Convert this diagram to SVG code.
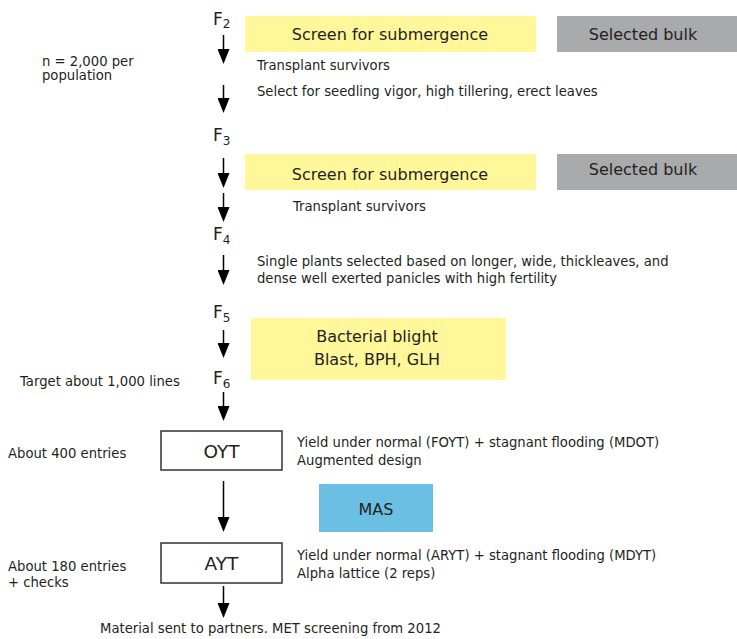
<svg xmlns="http://www.w3.org/2000/svg" width="737" height="639" viewBox="0 0 737 639">
<style>
text{font-family:"DejaVu Sans","Liberation Sans",sans-serif;fill:#231f20}
.s{font-size:13.2px}
.b{font-size:16px;text-anchor:middle}
.g{font-size:17px}
.sub{font-size:12px}
.t{font-size:18.5px;text-anchor:middle}
.y{fill:#fff799}
.gr{fill:#a9aaac}
.bl{fill:#6bbfe3}
.box{fill:#fff;stroke:#333;stroke-width:1.5}
.ar{stroke:#000;stroke-width:1.5;fill:none;marker-end:url(#ah)}
</style>
<defs>
<marker id="ah" markerUnits="userSpaceOnUse" viewBox="0 0 15 12" refX="5" refY="6" markerWidth="15" markerHeight="12" orient="auto">
<path d="M0,0 L15,6 L0,12 Z" fill="#000"/>
</marker>
</defs>

<g id="gen-labels">
<text class="g" x="213" y="25">F<tspan class="sub" dy="3">2</tspan></text>
<text class="g" x="213" y="141">F<tspan class="sub" dy="4">3</tspan></text>
<text class="g" x="213" y="240">F<tspan class="sub" dy="4">4</tspan></text>
<text class="g" x="213" y="318">F<tspan class="sub" dy="4">5</tspan></text>
<text class="g" x="213" y="384">F<tspan class="sub" dy="4">6</tspan></text>
</g>

<g id="screen1">
<rect class="y" x="245" y="16" width="291" height="36"/>
<text class="b" x="390" y="40">Screen for submergence</text>
</g>
<g id="bulk1">
<rect class="gr" x="557" y="16" width="180" height="36"/>
<text class="b" x="643" y="40">Selected bulk</text>
</g>
<g id="screen2">
<rect class="y" x="245" y="154" width="291" height="36"/>
<text class="b" x="390" y="180">Screen for submergence</text>
</g>
<g id="bulk2">
<rect class="gr" x="557" y="154" width="180" height="36"/>
<text class="b" x="643" y="175">Selected bulk</text>
</g>
<g id="disease">
<rect class="y" x="251" y="318" width="255" height="62"/>
<text class="b" x="377" y="342">Bacterial blight</text>
<text class="b" x="377" y="365">Blast, BPH, GLH</text>
</g>
<g id="oyt">
<rect class="box" x="161" y="431" width="121" height="39"/>
<text class="t" x="221.5" y="458">OYT</text>
</g>
<g id="mas">
<rect class="bl" x="319" y="484" width="114" height="48"/>
<text class="b" x="376" y="515">MAS</text>
</g>
<g id="ayt">
<rect class="box" x="161" y="543" width="121" height="40"/>
<text class="t" x="221.5" y="570">AYT</text>
</g>

<g id="notes">
<text class="s" x="42" y="66">n = 2,000 per</text>
<text class="s" x="42" y="80">population</text>
<text class="s" x="257" y="70">Transplant survivors</text>
<text class="s" x="257" y="96">Select for seedling vigor, high tillering, erect leaves</text>
<text class="s" x="293" y="211">Transplant survivors</text>
<text class="s" x="257" y="266">Single plants selected based on longer, wide, thickleaves, and</text>
<text class="s" x="257" y="283">dense well exerted panicles with high fertility</text>
<text class="s" x="20" y="386">Target about 1,000 lines</text>
<text class="s" x="8" y="458">About 400 entries</text>
<text class="s" x="297" y="447">Yield under normal (FOYT) + stagnant flooding (MDOT)</text>
<text class="s" x="297" y="465">Augmented design</text>
<text class="s" x="8" y="571">About 180 entries</text>
<text class="s" x="8" y="587">+ checks</text>
<text class="s" x="297" y="560">Yield under normal (ARYT) + stagnant flooding (MDYT)</text>
<text class="s" x="297" y="578">Alpha lattice (2 reps)</text>
<text class="s" x="100" y="633">Material sent to partners. MET screening from 2012</text>
</g>

<g id="connectors">
<line class="ar" x1="223.5" y1="35" x2="223.5" y2="54"/>
<line class="ar" x1="223.5" y1="85" x2="223.5" y2="103"/>
<line class="ar" x1="223.5" y1="158" x2="223.5" y2="178"/>
<line class="ar" x1="223.5" y1="193" x2="223.5" y2="212"/>
<line class="ar" x1="223.5" y1="255" x2="223.5" y2="275"/>
<line class="ar" x1="223.5" y1="330" x2="223.5" y2="348"/>
<line class="ar" x1="223.5" y1="392" x2="223.5" y2="411"/>
<line class="ar" x1="223.5" y1="481" x2="223.5" y2="522"/>
<line class="ar" x1="223.5" y1="586" x2="223.5" y2="608"/>
</g>
</svg>
